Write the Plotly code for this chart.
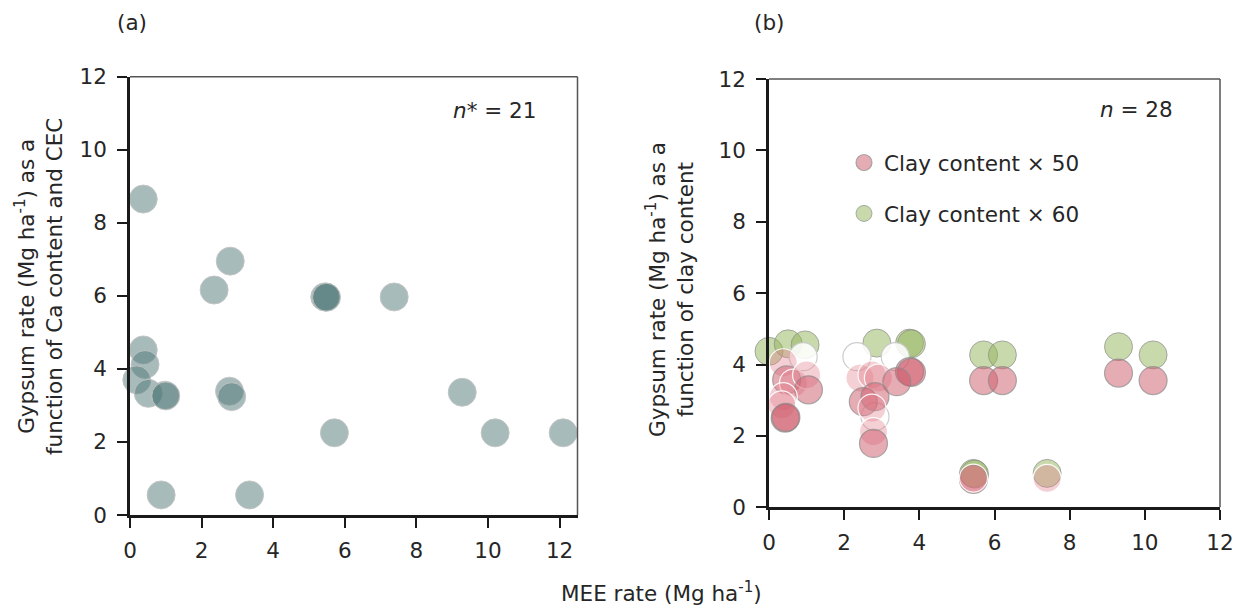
import plotly.graph_objects as go

# ---------------- data ----------------
# Panel (a): gypsum rate from Ca content and CEC vs MEE rate
a_mee = [0.37, 2.80, 2.35, 5.44, 5.47, 5.49, 7.38, 0.37, 0.42, 0.19, 0.51,
         0.98, 1.00, 2.78, 2.84, 9.28, 5.71, 10.20, 12.10, 0.87, 3.34]
a_gyp = [8.65, 6.95, 6.16, 5.97, 5.97, 5.96, 5.97, 4.52, 4.12, 3.70, 3.33,
         3.28, 3.26, 3.39, 3.24, 3.36, 2.25, 2.25, 2.25, 0.55, 0.55]

# Panel (b): gypsum rate from clay content
b60_mee = [0.00, 0.51, 0.96, 2.87, 3.74, 3.79, 5.71, 6.21, 9.30, 10.22, 5.44, 5.47, 7.40]
b60_gyp = [4.37, 4.58, 4.55, 4.60, 4.60, 4.58, 4.27, 4.27, 4.50, 4.27, 0.95, 0.93, 0.95]

b50_mee = [9.30, 10.22, 5.71, 6.21, 5.44, 5.44, 7.40,
           0.91, 2.34, 3.36, 2.82,
           -0.05, 0.38, 0.47, 0.65, 1.00, 1.05, 0.38, 0.34, 0.43, 0.45,
           2.42, 2.74, 2.91, 3.74, 3.79, 3.40, 2.51, 2.82, 2.74, 2.78, 2.78]
b50_gyp = [3.76, 3.55, 3.55, 3.55, 0.78, 0.82, 0.81,
           4.22, 4.22, 4.22, 2.54,
           3.62, 4.05, 3.57, 3.48, 3.71, 3.29, 3.10, 2.87, 2.50, 2.52,
           3.62, 3.71, 3.62, 3.80, 3.78, 3.52, 2.96, 3.10, 2.78, 2.12, 1.79]
# tone of each Clay x 50 marker: w = whitish, l = light pink, p = pink
b50_tone = ["p", "p", "p", "p", "p", "l", "l",
            "w", "w", "w", "w",
            "p", "l", "p", "l", "l", "p", "l", "l", "p", "p",
            "l", "l", "l", "p", "p", "p", "p", "p", "l", "l", "p"]

ticks = [0, 2, 4, 6, 8, 10, 12]

# ---------------- styles ----------------
FONT = "DejaVu Sans"
TXT = "#262626"
FS = 21.5
W, H = 1245, 607

fill_map = {"w": "rgba(255,255,255,0.88)", "l": "rgba(225,130,142,0.38)", "p": "rgba(205,90,105,0.5)"}
edge_map = {"w": "rgba(200,200,200,0.9)", "l": "rgba(255,255,255,0.9)", "p": "rgba(140,140,140,0.7)"}

fig = go.Figure()

fig.add_trace(go.Scatter(
    x=a_mee, y=a_gyp, mode="markers", xaxis="x", yaxis="y", showlegend=False,
    cliponaxis=False,
    marker=dict(size=28, color="rgba(80,120,120,0.5)",
                line=dict(color="rgba(195,195,195,0.9)", width=1))))

fig.add_trace(go.Scatter(
    x=b60_mee, y=b60_gyp, mode="markers", xaxis="x2", yaxis="y2",
    name="Clay content × 60", legendgroup="g60", legendrank=2, cliponaxis=False,
    marker=dict(size=28, color="rgba(145,180,90,0.5)",
                line=dict(color="rgba(140,140,140,0.7)", width=1))))

fig.add_trace(go.Scatter(
    x=b50_mee, y=b50_gyp, mode="markers", xaxis="x2", yaxis="y2",
    name="Clay content × 50", legendgroup="g50", legendrank=1, cliponaxis=False,
    marker=dict(size=28, color=[fill_map[t] for t in b50_tone],
                line=dict(color=[edge_map[t] for t in b50_tone], width=1.2))))


def px(x):
    return x / W


def py(y):
    return 1 - y / H


axis_common = dict(
    showline=True, linecolor="#1a1a1a", linewidth=2.5, ticks="outside",
    ticklen=10, tickwidth=1.5, tickcolor="#1a1a1a", showgrid=False, zeroline=False,
    tickfont=dict(family=FONT, size=FS, color=TXT), tickvals=ticks,
    automargin=False, mirror=False,
)

fig.update_layout(
    width=W, height=H, margin=dict(l=0, r=0, t=0, b=0),
    plot_bgcolor="white", paper_bgcolor="white",
    font=dict(family=FONT, size=FS, color=TXT),
    xaxis=dict(domain=[px(130), px(577.5)], range=[0, 12.5], anchor="y",
               ticklabelstandoff=4, **axis_common),
    yaxis=dict(domain=[py(515), py(76.7)], range=[0, 12], anchor="x",
               ticklabelstandoff=6, **axis_common),
    xaxis2=dict(domain=[px(769), px(1220)], range=[0, 12], anchor="y2",
                ticklabelstandoff=4, **axis_common),
    yaxis2=dict(domain=[py(507.3), py(79)], range=[0, 12], anchor="x2",
                ticklabelstandoff=6, **axis_common),
    legend=dict(x=px(844), y=py(142), xanchor="left", yanchor="top",
                bgcolor="rgba(0,0,0,0)", font=dict(family=FONT, size=FS, color=TXT),
                traceorder="grouped", tracegroupgap=20, itemsizing="trace"),
)

# top/right frame edges (lighter)
for xr, yr in (("x domain", "y domain"), ("x2 domain", "y2 domain")):
    fig.add_shape(type="line", xref=xr, yref=yr, x0=0, x1=1, y0=1, y1=1,
                  line=dict(color="#555555", width=1.5))
    fig.add_shape(type="line", xref=xr, yref=yr, x0=1, x1=1, y0=0, y1=1,
                  line=dict(color="#555555", width=1.5))

ann = [
    dict(text="(a)", x=px(132), y=py(22)),
    dict(text="(b)", x=px(769), y=py(22)),
    dict(text="<i>n</i>* = 21", x=px(494), y=py(110)),
    dict(text="<i>n</i> = 28", x=px(1136), y=py(109)),
    dict(text="MEE rate (Mg ha<sup>-1</sup>)", x=px(661), y=py(592)),
    dict(text="Gypsum rate (Mg ha<sup>-1</sup>) as a<br>function of Ca content and CEC",
         x=px(39), y=py(287), textangle=-90),
    dict(text="Gypsum rate (Mg ha<sup>-1</sup>) as a<br>function of clay content",
         x=px(670), y=py(290), textangle=-90),
]
for a in ann:
    fig.add_annotation(xref="paper", yref="paper", showarrow=False,
                       xanchor="center", yanchor="middle",
                       font=dict(family=FONT, size=FS, color=TXT), **a)

fig.write_html("out.html", config={"displayModeBar": False},
               post_script="document.body.style.margin='0';document.body.style.overflow='hidden';")
